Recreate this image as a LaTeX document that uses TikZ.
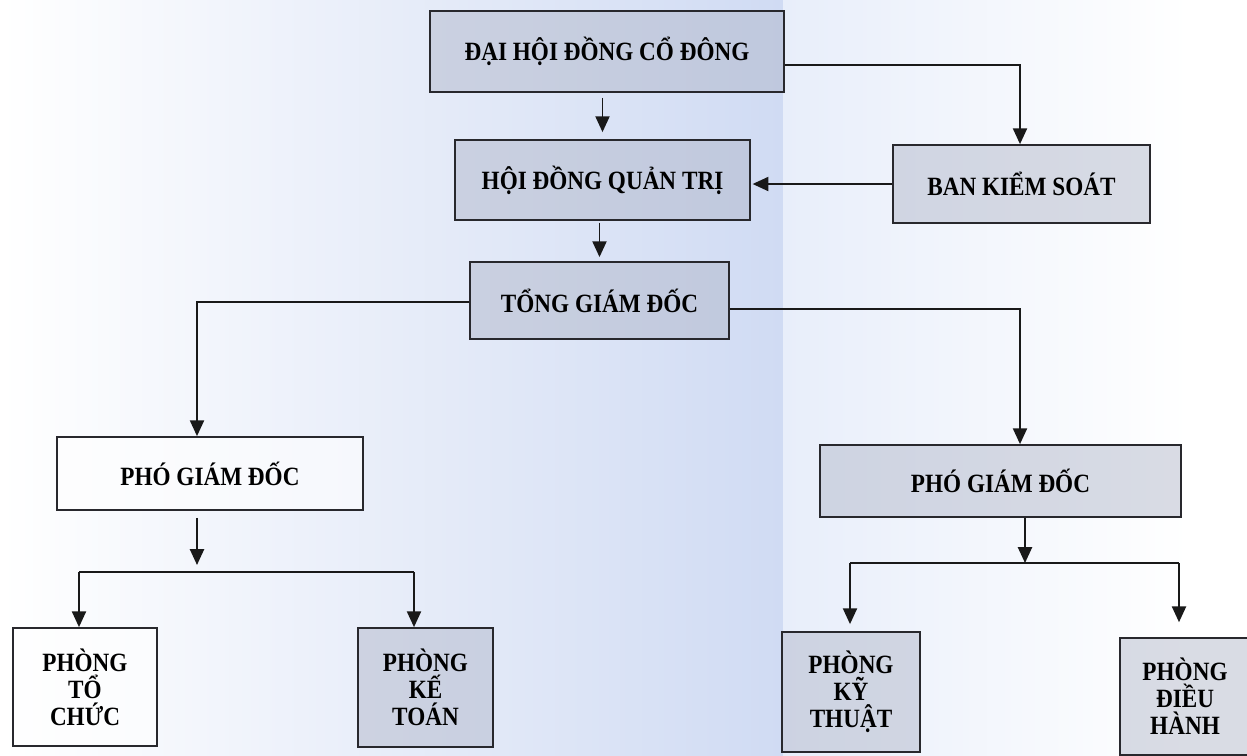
\documentclass[tikz,border=0pt]{standalone}
\usepackage{fontspec}
\setmainfont{Liberation Serif}[FakeStretch=0.88]
\usetikzlibrary{arrows.meta}
\definecolor{bgblue}{RGB}{208,219,243}
\definecolor{bgpale}{RGB}{232,238,250}
\definecolor{boxtint}{RGB}{172,178,197}
\definecolor{edge}{RGB}{40,40,45}

\begin{document}
\begin{tikzpicture}[x=0.02cm, y=-0.02cm]

	\tikzstyle{box}=[draw=edge, line width=1pt, fill=boxtint, fill opacity=0.45, text opacity=1, align=center, font=\bfseries\fontsize{15}{15.4}\selectfont, inner sep=0pt]
	\tikzstyle{boxw}=[box, fill=white, fill opacity=0.6]
	\tikzstyle{arr}=[-{Triangle[length=9pt, width=8pt]}, line width=1.1pt, draw=black!90]
	\tikzstyle{line}=[line width=1.1pt, draw=black!90]

	\useasboundingbox (0,0) rectangle (1247,755);
	\fill[white] (0,0) rectangle (1247,755);
	\shade[left color=white, right color=bgblue] (0,0) rectangle (783,755);
	\shade[left color=bgpale, right color=white] (783,0) rectangle (1190,755);

	\coordinate (c_dh) at (607, 51.5); % CAP 1
	\coordinate (c_hd) at (602.5, 180); % CAP 2
	\coordinate (c_bk) at (1021.5, 184); % CAP 2
	\coordinate (c_tg) at (599.5, 300.5); % CAP 3
	\coordinate (c_p1) at (210, 473.5); % CAP 4
	\coordinate (c_p2) at (1000.5, 481); % CAP 4
	\coordinate (c_tc) at (85, 687); % PHONG BAN
	\coordinate (c_kt) at (425.5, 687.5); % PHONG BAN
	\coordinate (c_ky) at (851, 692); % PHONG BAN
	\coordinate (c_dk) at (1185, 696.5); % PHONG BAN

	\coordinate (bar_1) at (197, 572);
	\coordinate (bar_1l) at (79, 572);
	\coordinate (bar_1r) at (414, 572);
	\coordinate (bar_2) at (1025, 563);
	\coordinate (bar_2l) at (850, 563);
	\coordinate (bar_2r) at (1179, 563);

	\node[box, minimum width=7.08cm, minimum height=1.62cm] (c_dh) at (c_dh) {ĐẠI HỘI ĐỒNG CỔ ĐÔNG};
	\node[box, minimum width=5.9cm, minimum height=1.6cm] (c_hd) at (c_hd) {HỘI ĐỒNG QUẢN TRỊ};
	\node[box, minimum width=5.14cm, minimum height=1.56cm] (c_bk) at (c_bk) {BAN KIỂM SOÁT};
	\node[box, minimum width=5.18cm, minimum height=1.54cm] (c_tg) at (c_tg) {TỔNG GIÁM ĐỐC};
	\node[boxw, minimum width=6.12cm, minimum height=1.46cm] (c_p1) at (c_p1) {PHÓ GIÁM ĐỐC};
	\node[box, minimum width=7.22cm, minimum height=1.44cm] (c_p2) at (c_p2) {PHÓ GIÁM ĐỐC};
	\node[boxw, minimum width=2.88cm, minimum height=2.36cm] (c_tc) at (c_tc) {PHÒNG\\TỔ\\CHỨC};
	\node[box, minimum width=2.7cm, minimum height=2.38cm] (c_kt) at (c_kt) {PHÒNG\\KẾ\\TOÁN};
	\node[box, minimum width=2.76cm, minimum height=2.4cm] (c_ky) at (c_ky) {PHÒNG\\KỸ\\THUẬT};
	\node[box, minimum width=2.6cm, minimum height=2.34cm] (c_dk) at (c_dk) {PHÒNG\\ĐIỀU\\HÀNH};

	%%%%%%%% CAP TREN %%%%%%%%
	\draw[arr, shorten <=2.8pt, shorten >=4pt] (c_dh.south -| c_hd.north) -- (c_hd.north);
	\draw[arr, shorten <=1pt, shorten >=2.3pt] (c_hd.south -| c_tg.north) -- (c_tg.north);
	\draw[arr] ([yshift=-0.27cm]c_dh.east) -| ([xshift=-0.03cm]c_bk.north);
	\draw[arr, shorten >=1pt] (c_bk.west) -- (c_bk.west -| c_hd.east);
	\draw[arr] ([yshift=-0.03cm]c_tg.west) -| ([xshift=-0.26cm]c_p1.north);
	\draw[arr] ([yshift=-0.17cm]c_tg.east) -| ([xshift=0.39cm]c_p2.north);

	%%%%%%%% PHONG BAN %%%%%%%%
	\draw[arr, shorten <=4pt, shorten >=4pt] (c_p1.south -| bar_1) -- (bar_1);
	\draw[line] (bar_1l) -- (bar_1r);
	\draw[arr] (bar_1l) -- (bar_1l |- c_tc.north);
	\draw[arr] (bar_1r) -- (bar_1r |- c_kt.north);

	\draw[arr] (c_p2.south -| bar_2) -- (bar_2);
	\draw[line] (bar_2l) -- (bar_2r);
	\draw[arr, shorten >=4pt] (bar_2l) -- (bar_2l |- c_ky.north);
	\draw[arr, shorten >=8.5pt] (bar_2r) -- (bar_2r |- c_dk.north);
\end{tikzpicture}
\end{document}
